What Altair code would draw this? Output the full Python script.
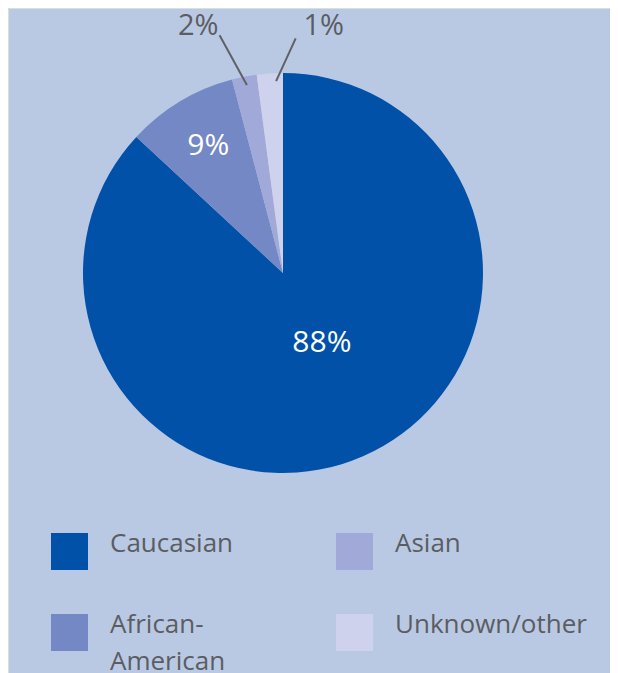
import altair as alt
import pandas as pd

# ---- data ----
categories = ["Caucasian", "African-American", "Asian", "Unknown/other"]
shares = [86.9, 9.0, 2.0, 2.1]          # slice sizes as drawn
pct_labels = ["88%", "9%", "2%", "1%"]  # printed labels
colors = ["#0151A8", "#7488C5", "#A0A9D7", "#CFD2EC"]

df = pd.DataFrame({
    "category": categories,
    "share": shares,
    "label": pct_labels,
    "rank": list(range(len(categories))),
})

W, H = 602, 672
CX, CY, R = 275, 265, 200
FONT = "Open Sans"
GRAY = "#5B5D62"

pie = alt.Chart(df).mark_arc(outerRadius=R).encode(
    theta=alt.Theta("share:Q", stack=True),
    order=alt.Order("rank:Q"),
    color=alt.Color(
        "category:N",
        scale=alt.Scale(domain=categories, range=colors),
        legend=alt.Legend(
            title=None, orient="none", legendX=43, legendY=513,
            columns=2, gridAlign="all", symbolType="square", symbolSize=1369,
            symbolStrokeWidth=0, labelFont=FONT, labelFontSize=26,
            labelColor=GRAY, labelOffset=22, labelLimit=400,
            rowPadding=29, columnPadding=34, padding=0,
            labelBaseline="alphabetic",
            labelExpr="datum.label == 'African-American' ? ['African-', 'American'] : datum.label",
        ),
    ),
    x=alt.value(CX), y=alt.value(CY),
)

polar = alt.Chart(df).transform_window(
    cum="sum(share)", sort=[alt.SortField("rank")], frame=[None, 0]
).transform_joinaggregate(
    total="sum(share)"
).transform_calculate(
    mid="2*PI*(datum.cum - datum.share/2)/datum.total"
)


def label_layer(cat, r, off, size, color):
    return polar.transform_filter(alt.datum.category == cat).transform_calculate(
        tx=f"{CX} + {r}*sin(datum.mid + ({off}))",
        ty=f"{CY} - {r}*cos(datum.mid + ({off}))",
    ).mark_text(font=FONT, fontSize=size, color=color, baseline="middle", align="center").encode(
        x=alt.X("tx:Q", scale=None), y=alt.Y("ty:Q", scale=None), text="label:N"
    )


def leader(cat, r1, off1, r2, off2):
    return polar.transform_filter(alt.datum.category == cat).transform_calculate(
        x1=f"{CX} + {r1}*sin(datum.mid + ({off1}))",
        y1=f"{CY} - {r1}*cos(datum.mid + ({off1}))",
        x2=f"{CX} + {r2}*sin(datum.mid + ({off2}))",
        y2=f"{CY} - {r2}*cos(datum.mid + ({off2}))",
    ).mark_rule(color="#5F6166", strokeWidth=2).encode(
        x=alt.X("x1:Q", scale=None), y=alt.Y("y1:Q", scale=None),
        x2="x2:Q", y2="y2:Q",
    )


chart = alt.layer(
    pie,
    leader("Asian", 191.5, 0.005, 246, -0.066),
    leader("Unknown/other", 192, 0.030, 235, 0.120),
    label_layer("Caucasian", 80, -0.096, 30, "white"),
    label_layer("African-American", 147, 0.007, 30, "white"),
    label_layer("Asian", 261, -0.136, 29, GRAY),
    label_layer("Unknown/other", 250, 0.230, 29, GRAY),
).properties(
    width=W, height=H, autosize=alt.AutoSizeParams(type="none"), padding=0,
    background="#B9C9E4",
).configure_view(stroke=None).configure(
    style={"guide-label": {"lineHeight": 37}}
)

chart.save("out.html", embed_options={"renderer": "svg", "actions": False})
